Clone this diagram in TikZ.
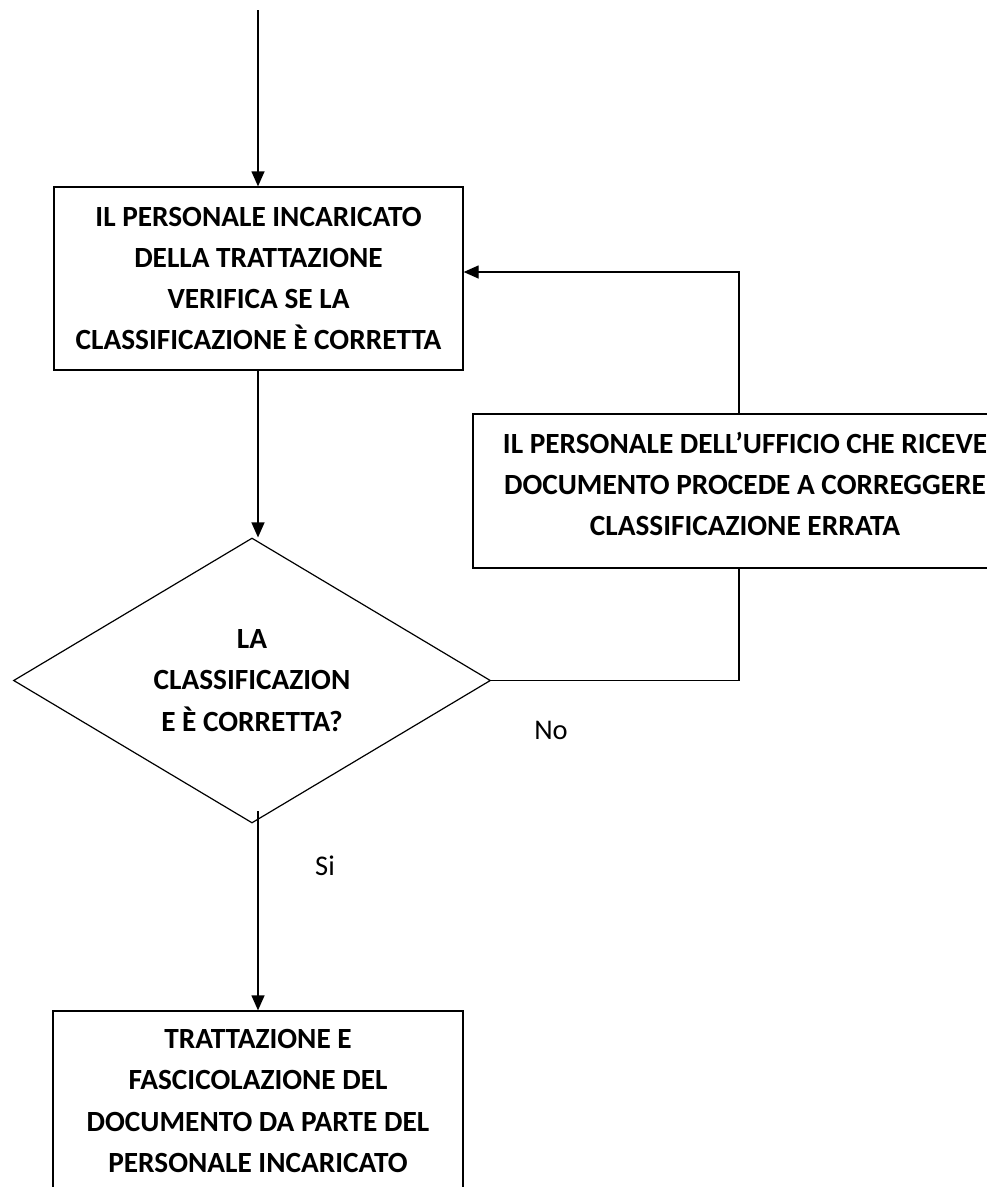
\documentclass[tikz,border=0pt]{standalone}
\usepackage{fontspec}
\setmainfont{Carlito}
\usetikzlibrary{shapes.geometric,arrows.meta}

\begin{document}
\begin{tikzpicture}[x=1pt,y=-1pt,
   every node/.style={align=center},
   flowbox/.style={draw,line width=1.3pt,inner sep=0pt,font=\fontsize{29.3}{41.3}\selectfont\bfseries},
   decision/.style={draw,diamond,aspect=1.67,line width=1.2pt,inner sep=0pt,
      minimum width=477pt,minimum height=285pt,font=\fontsize{29.3}{41.3}\selectfont\bfseries},
   flow/.style={line width=1.3pt},
   arr/.style={flow,-{Triangle[length=15pt,width=13pt]}},
   answer/.style={font=\fontsize{28.5}{32}\selectfont}]
\clip (0,0) rectangle (987,1187);
\node[flowbox,minimum width=409pt,minimum height=183pt] (verify) at (258.5,278.5)
   {IL PERSONALE INCARICATO\\DELLA TRATTAZIONE\\VERIFICA SE LA\\CLASSIFICAZIONE È CORRETTA};
\node[decision] (check) at (252,680.5) {LA\\CLASSIFICAZION\\E È CORRETTA?};
\node[flowbox,minimum width=544pt,minimum height=154pt] (correct) at (745,491)
   {IL PERSONALE DELL’UFFICIO CHE RICEVE\\DOCUMENTO PROCEDE A CORREGGERE\\CLASSIFICAZIONE ERRATA\rule[-14pt]{0pt}{14pt}};
\node[flowbox,minimum width=410pt,minimum height=180pt] (handle) at (258,1101)
   {TRATTAZIONE E\\FASCICOLAZIONE DEL\\DOCUMENTO DA PARTE DEL\\PERSONALE INCARICATO};
\node[answer] (no) at (551,730) {No};
\node[answer] (si) at (325,866) {Si};
\coordinate (start) at (258,10);
\coordinate (siStart) at (258,811);
\coordinate (noCorner) at (739,680.5);
\coordinate (backCorner) at (739,272);
\draw[arr] (start) -- (start |- verify.north);
\draw[arr] (verify.south -| start) -- (start |- check.north);
\draw[arr] (siStart) -- (siStart |- handle.north);
\draw[flow] (check.east) -- (noCorner) -- (noCorner |- correct.south);
\draw[arr] (backCorner |- correct.north) -- (backCorner) -- (backCorner -| verify.east);
\end{tikzpicture}
\end{document}
